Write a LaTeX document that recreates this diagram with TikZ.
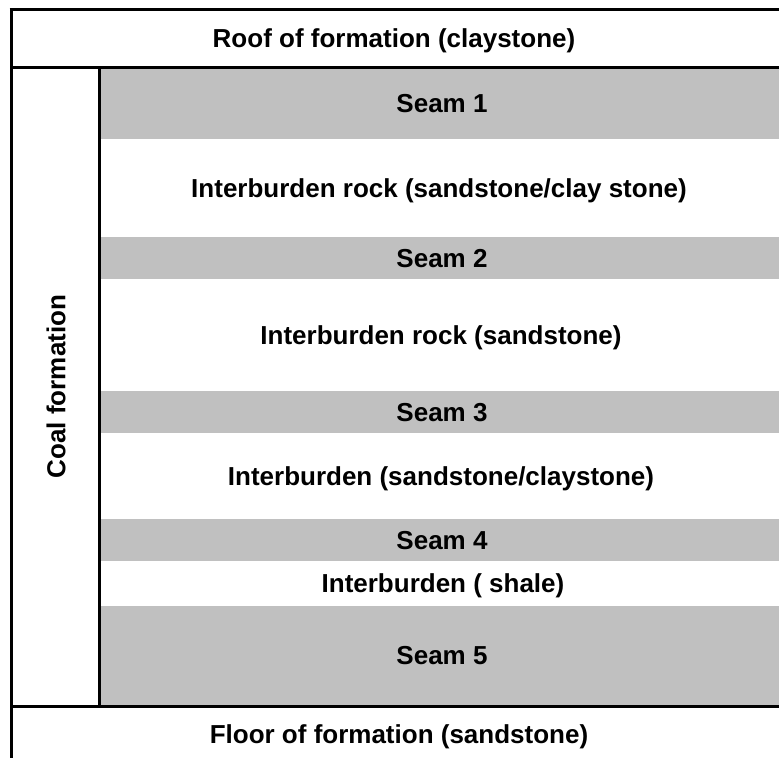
\documentclass[tikz,border=0pt]{standalone}
\usepackage{fontspec}
\setmainfont{Liberation Sans}
\definecolor{seamgray}{RGB}{192,192,192}

\begin{document}
\begin{tikzpicture}[x=1pt,y=-1pt]
\tikzstyle{every node}+=[inner sep=0pt,font=\bfseries\fontsize{26}{30}\selectfont,text height=18.6pt,text depth=0pt]
\useasboundingbox (0,0) rectangle (779,758);
% seams
\fill [seamgray] (100.5,69) rectangle (779,139.3);
\fill [seamgray] (100.5,236.7) rectangle (779,278.7);
\fill [seamgray] (100.5,391) rectangle (779,432.7);
\fill [seamgray] (100.5,519) rectangle (779,561);
\fill [seamgray] (100.5,606) rectangle (779,705);
% frame
\draw [black,line width=3pt] (9.5,9.5) -- (779,9.5);
\draw [black,line width=3pt] (11,8) -- (11,758);
\draw [black,line width=3pt] (11,67.5) -- (779,67.5);
\draw [black,line width=3pt] (11,706.5) -- (779,706.5);
\draw [black,line width=3pt] (99,67.5) -- (99,706.5);
% labels
\draw (394,38.5) node (roof) {Roof of formation (claystone)};
\draw (442,103.5) node (seamA) {Seam 1};
\draw (439,188) node (interA) {Interburden rock (sandstone/clay stone)};
\draw (442,258) node (seamB) {Seam 2};
\draw (441,335) node (interB) {Interburden rock (sandstone)};
\draw (442,412) node (seamC) {Seam 3};
\draw (441,476) node (interC) {Interburden (sandstone/claystone)};
\draw (442,540) node (seamD) {Seam 4};
\draw (443,583.5) node (interD) {Interburden ( shale)};
\draw (442,655.5) node (seamE) {Seam 5};
\draw (399,734) node (floor) {Floor of formation (sandstone)};
\draw (56,386.5) node [rotate=90] (coal) {Coal formation};
\end{tikzpicture}
\end{document}
